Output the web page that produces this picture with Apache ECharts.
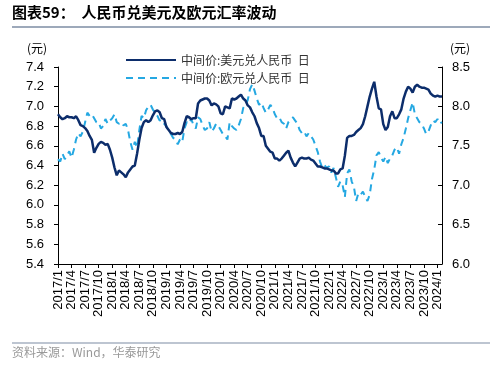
<!DOCTYPE html>
<html><head><meta charset="utf-8">
<script src="https://cdn.jsdelivr.net/npm/echarts@6/dist/echarts.min.js"></script>
<style>html,body{margin:0;padding:0;background:#fff}#c{width:500px;height:366px}</style>
</head><body><div id="c"></div>
<script>
// Semimonthly observations (1st and 16th of each month), 2017/1 .. 2024/2
var startYear = 2017, pointCount = 171;
var usdNames = '中间价:美元兑人民币  日';
var eurNames = '中间价:欧元兑人民币  日';

var usd2017 = [6.92,6.89,6.87,6.88,6.90,6.89,6.89,6.88,6.90,6.86,6.81,6.80,6.78,6.75,6.70,6.66,6.53,6.58,6.62,6.64,6.63,6.61,6.62,6.56];
var usd2018 = [6.48,6.38,6.30,6.35,6.33,6.31,6.28,6.33,6.36,6.39,6.40,6.52,6.66,6.78,6.84,6.86,6.84,6.86,6.91,6.95,6.96,6.94,6.88,6.87];
var usd2019 = [6.79,6.76,6.73,6.72,6.72,6.73,6.72,6.74,6.83,6.90,6.89,6.87,6.88,6.88,7.03,7.06,7.07,7.08,7.08,7.06,7.01,7.03,7.02,7.00];
var usd2020 = [6.93,6.92,7.00,6.99,6.98,7.08,7.07,7.08,7.10,7.12,7.08,7.06,7.01,6.99,6.94,6.90,6.83,6.78,6.70,6.70,6.60,6.57,6.54,6.53];
var usd2021 = [6.47,6.47,6.45,6.47,6.50,6.53,6.55,6.48,6.43,6.39,6.43,6.47,6.48,6.47,6.47,6.48,6.46,6.45,6.42,6.39,6.39,6.38,6.37,6.37];
var usd2022 = [6.36,6.35,6.35,6.32,6.32,6.36,6.37,6.50,6.68,6.70,6.70,6.71,6.74,6.76,6.78,6.82,6.90,7.00,7.10,7.18,7.25,7.10,6.98,6.97];
var usd2023 = [6.82,6.76,6.79,6.90,6.95,6.88,6.88,6.92,6.97,7.08,7.15,7.20,7.18,7.14,7.20,7.22,7.20,7.19,7.19,7.18,7.17,7.13,7.11,7.10];
var usd2024 = [7.11,7.10,7.10];

var eur2017 = [7.33,7.30,7.40,7.33,7.38,7.43,7.35,7.45,7.58,7.66,7.62,7.68,7.80,7.92,7.88,7.90,7.85,7.80,7.80,7.72,7.75,7.84,7.78,7.82];
var eur2018 = [7.85,7.90,7.80,7.78,7.80,7.76,7.78,7.70,7.55,7.45,7.55,7.48,7.70,7.88,7.85,7.95,8.00,8.02,7.96,7.92,7.88,7.82,7.83,7.78];
var eur2019 = [7.75,7.68,7.65,7.60,7.58,7.52,7.58,7.55,7.72,7.80,7.78,7.84,7.76,7.72,7.86,7.84,7.76,7.70,7.72,7.80,7.68,7.72,7.78,7.75];
var eur2020 = [7.70,7.65,7.62,7.58,7.80,7.75,7.72,7.70,7.76,7.84,7.98,8.02,8.08,8.22,8.28,8.20,8.10,8.02,8.05,7.98,7.92,7.96,8.02,7.98];
var eur2021 = [7.90,7.85,7.86,7.80,7.78,7.72,7.80,7.84,7.86,7.82,7.78,7.70,7.66,7.68,7.62,7.66,7.62,7.58,7.50,7.42,7.30,7.22,7.25,7.22];
var eur2022 = [7.24,7.16,7.22,7.10,6.98,7.05,7.00,6.85,7.15,7.20,7.05,6.98,6.80,6.90,6.88,6.92,6.85,6.80,6.88,7.08,7.20,7.38,7.42,7.35];
var eur2023 = [7.30,7.36,7.28,7.34,7.38,7.45,7.48,7.40,7.52,7.60,7.72,7.85,7.95,8.05,7.90,7.85,7.80,7.78,7.72,7.65,7.68,7.76,7.82,7.80];
var eur2024 = [7.84,7.78,7.80];

var usd = [].concat(usd2017,usd2018,usd2019,usd2020,usd2021,usd2022,usd2023,usd2024);
var eur = [].concat(eur2017,eur2018,eur2019,eur2020,eur2021,eur2022,eur2023,eur2024);

var categories = [];
for (var i = 0; i < pointCount; i++) {
  var y = startYear + Math.floor(i / 24), m = Math.floor((i % 24) / 2) + 1, d = (i % 2) ? 16 : 1;
  categories.push(y + '/' + m + '/' + d);
}
var leftTicks = {min: 5.4, max: 7.4, interval: 0.2};
var rightTicks = {min: 6.0, max: 8.5, interval: 0.5};

var chart = echarts.init(document.getElementById('c'), null, {renderer: 'canvas'});
var FONT = '"Liberation Sans", Arial, sans-serif';
var CJK = '"Noto Sans CJK SC", sans-serif';
chart.setOption({
  animation: false,
  backgroundColor: '#fff',
  grid: {left: 58, right: 58, top: 67, bottom: 102, containLabel: false},
  legend: {
    orient: 'vertical', left: 120, top: 49, itemWidth: 50, itemHeight: 10, itemGap: 6,
    itemStyle: {opacity: 0, borderWidth: 0},
    textStyle: {fontFamily: CJK, fontSize: 12, color: '#333'},
    data: [usdNames, eurNames]
  },
  xAxis: {
    type: 'category', data: categories, boundaryGap: false,
    axisLine: {lineStyle: {color: '#000', width: 1}},
    axisTick: {interval: 5, length: 4, lineStyle: {color: '#000'}},
    axisLabel: {
      interval: 5, rotate: 90, fontFamily: FONT, fontSize: 13, color: '#000', margin: 6,
      formatter: function (v) { var p = v.split('/'); return p[0] + '/' + p[1]; }
    }
  },
  yAxis: [{
    type: 'value', min: leftTicks.min, max: leftTicks.max, interval: leftTicks.interval,
    splitLine: {show: false},
    axisLine: {show: true, lineStyle: {color: '#000'}},
    axisTick: {show: true, length: 4, lineStyle: {color: '#000'}},
    axisLabel: {fontFamily: FONT, fontSize: 13, color: '#000', margin: 14,
      formatter: function (v) { return v.toFixed(1); }}
  }, {
    type: 'value', min: rightTicks.min, max: rightTicks.max, interval: rightTicks.interval,
    splitLine: {show: false},
    axisLine: {show: true, lineStyle: {color: '#000'}},
    axisTick: {show: true, inside: true, length: 4, lineStyle: {color: '#000'}},
    axisLabel: {fontFamily: FONT, fontSize: 13, color: '#000', margin: 10,
      formatter: function (v) { return v.toFixed(1); }}
  }],
  series: [{
    name: usdNames, type: 'line', data: usd, yAxisIndex: 0, showSymbol: false, symbol: 'none',
    lineStyle: {color: '#0c2d6b', width: 2.5}, itemStyle: {color: '#0c2d6b'}, z: 3
  }, {
    name: eurNames, type: 'line', data: eur, yAxisIndex: 1, showSymbol: false, symbol: 'none',
    lineStyle: {color: '#25a8e2', width: 2, type: [7, 5]}, itemStyle: {color: '#25a8e2'}, z: 2
  }],
  graphic: [
    {type: 'text', left: 12, top: 5, style: {text: '图表59：  人民币兑美元及欧元汇率波动', font: 'bold 15px "Noto Sans CJK SC", sans-serif', fill: '#000'}},
    {type: 'line', shape: {x1: 12, y1: 27, x2: 490, y2: 27}, style: {stroke: '#7d8ca3', lineWidth: 1.5}},
    {type: 'text', left: 27, top: 42, style: {text: '(元)', font: '12px "Noto Sans CJK SC", sans-serif', fill: '#000'}},
    {type: 'text', left: 450, top: 42, style: {text: '(元)', font: '12px "Noto Sans CJK SC", sans-serif', fill: '#000'}},
    {type: 'line', shape: {x1: 12, y1: 343, x2: 490, y2: 343}, style: {stroke: '#7d8ca3', lineWidth: 1.2}},
    {type: 'text', left: 12, top: 346, style: {text: '资料来源：Wind，华泰研究', font: '12px "Noto Sans CJK SC", sans-serif', fill: '#999'}}
  ]
});
</script></body></html>
